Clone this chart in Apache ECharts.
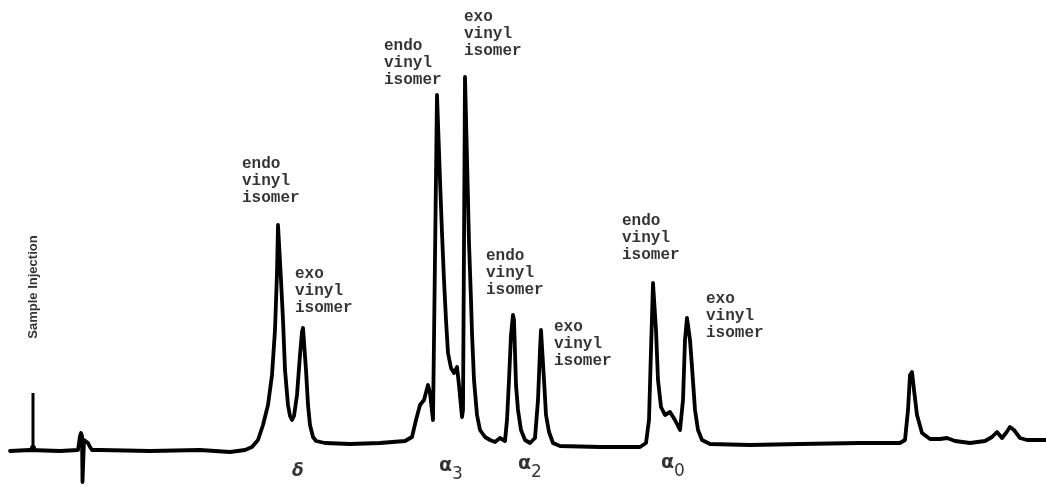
<!DOCTYPE html>
<html>
<head>
<meta charset="utf-8">
<script src="https://cdn.jsdelivr.net/npm/echarts@6/dist/echarts.min.js"></script>
<style>html,body{margin:0;padding:0;background:#fff}#c{width:1046px;height:487px}</style>
</head>
<body>
<div id="c"></div>
<script>
// Retention position (chart-width units) and detector signal (read in chart-height units)
const retention = [10,30,60,78,79,80,81,82,82.5,83,84,86,88,90,92,100,150,200,230,245,252,258,263,268,272,275,277,278,279,281,283,285,288,290,292,294,297,300,302,303,304,306,308,310,313,316,325,350,380,405,412,416,420,424,428,430,433,435,437,438,440,442,444,446,448,451,454,457,459,462,463,465,466,468,469,471,472,474,477,480,485,490,495,500,505,507,509,511,513,514,516,518,521,525,530,535,538,540,541,542,544,546,549,553,560,600,640,646,649,651,653,654,656,658,661,665,670,675,680,683,685,687,688,690,692,695,698,702,710,750,800,860,900,905,908,910,912,914,917,922,930,940,947,955,970,985,992,997,1002,1006,1010,1014,1020,1027,1046];
const signalPx = [451,450,451,450,450,436,433,436,482,482,440,438,443,447,450,450,451,450,452,450,447,440,425,405,375,330,273,225,225,280,320,370,405,416,420,416,395,355,332,328,330,370,405,425,437,441,443,444,443,441,437,420,405,400,385,393,420,418,95,95,180,233,280,320,353,368,373,367,385,417,410,77,77,200,243,300,333,380,415,430,437,440,442,438,441,420,380,335,315,320,385,410,430,440,443,438,400,350,330,332,380,415,432,443,446,447,447,443,420,350,283,285,330,380,407,415,412,420,430,400,340,318,320,340,367,410,430,440,444,445,444,443,443,440,410,375,372,390,415,433,439,439,438,441,443,441,437,432,438,433,427,430,438,440,440];
const H = 487;
const signal = signalPx.map(v => H - v);

// Peak annotations: label text and anchor (top-left) in chart units
const peakLabels = ["endo\nvinyl\nisomer","exo\nvinyl\nisomer","endo\nvinyl\nisomer","exo\nvinyl\nisomer","endo\nvinyl\nisomer","exo\nvinyl\nisomer","endo\nvinyl\nisomer","exo\nvinyl\nisomer"];
const peakLabelX = [242,295,384,464,486,554,622,706];
const peakLabelY = [155,265,37,8,247,318,212,290].map(v => H - v);

// Compound group labels
const groupLabels = ["{d|δ}","{a|α}{s|3}","{a|α}{s|2}","{a|α}{s|0}"];
const groupX = [292,439,518,661];
const groupY = [463,457,455,454].map(v => H - v);

const injX = [33,33];
const injY = [393,448].map(v => H - v);

const chart = echarts.init(document.getElementById('c'));
chart.setOption({
  animation:false,
  backgroundColor:'#fff',
  grid:{left:0,right:0,top:0,bottom:0},
  xAxis:{type:'value',min:0,max:1046,show:false},
  yAxis:{type:'value',min:0,max:H,show:false},
  series:[
    {type:'line',data:retention.map((x,i)=>[x,signal[i]]),symbol:'none',
     lineStyle:{color:'#000',width:3.8,join:'round',cap:'round'}},
    {type:'line',
     data:[{value:[injX[0],injY[0]],symbol:'none'},{value:[injX[1],injY[1]],symbol:'circle',symbolSize:6}],
     showSymbol:true,itemStyle:{color:'#000'},
     lineStyle:{color:'#000',width:3}},
    {type:'scatter',symbolSize:0,data:[[33,H-287]],
     label:{show:true,formatter:'Sample Injection',rotate:90,position:'inside',
       fontFamily:'Liberation Sans',fontWeight:'bold',fontSize:13,color:'#000'}},
    {type:'scatter',symbolSize:0,
     data:peakLabels.map((t,i)=>({value:[peakLabelX[i],peakLabelY[i]],name:t})),
     label:{show:true,formatter:p=>p.name,position:[0,0],align:'left',verticalAlign:'top',
       fontFamily:'Liberation Mono',fontWeight:'bold',fontSize:16,lineHeight:17,color:'#000'}},
    {type:'scatter',symbolSize:0,
     data:groupLabels.map((t,i)=>({value:[groupX[i],groupY[i]],name:t})),
     label:{show:true,formatter:p=>p.name,position:[0,0],align:'left',verticalAlign:'top',
       color:'#000',
       rich:{
         d:{fontFamily:'DejaVu Sans',fontStyle:'italic',fontWeight:'bold',fontSize:17,color:'#000'},
         a:{fontFamily:'DejaVu Sans',fontWeight:'bold',fontSize:19,color:'#000',verticalAlign:'top'},
         s:{fontFamily:'DejaVu Sans',fontSize:17,color:'#000',padding:[9,0,0,0]}
       }}}
  ]
});
</script>
</body>
</html>
